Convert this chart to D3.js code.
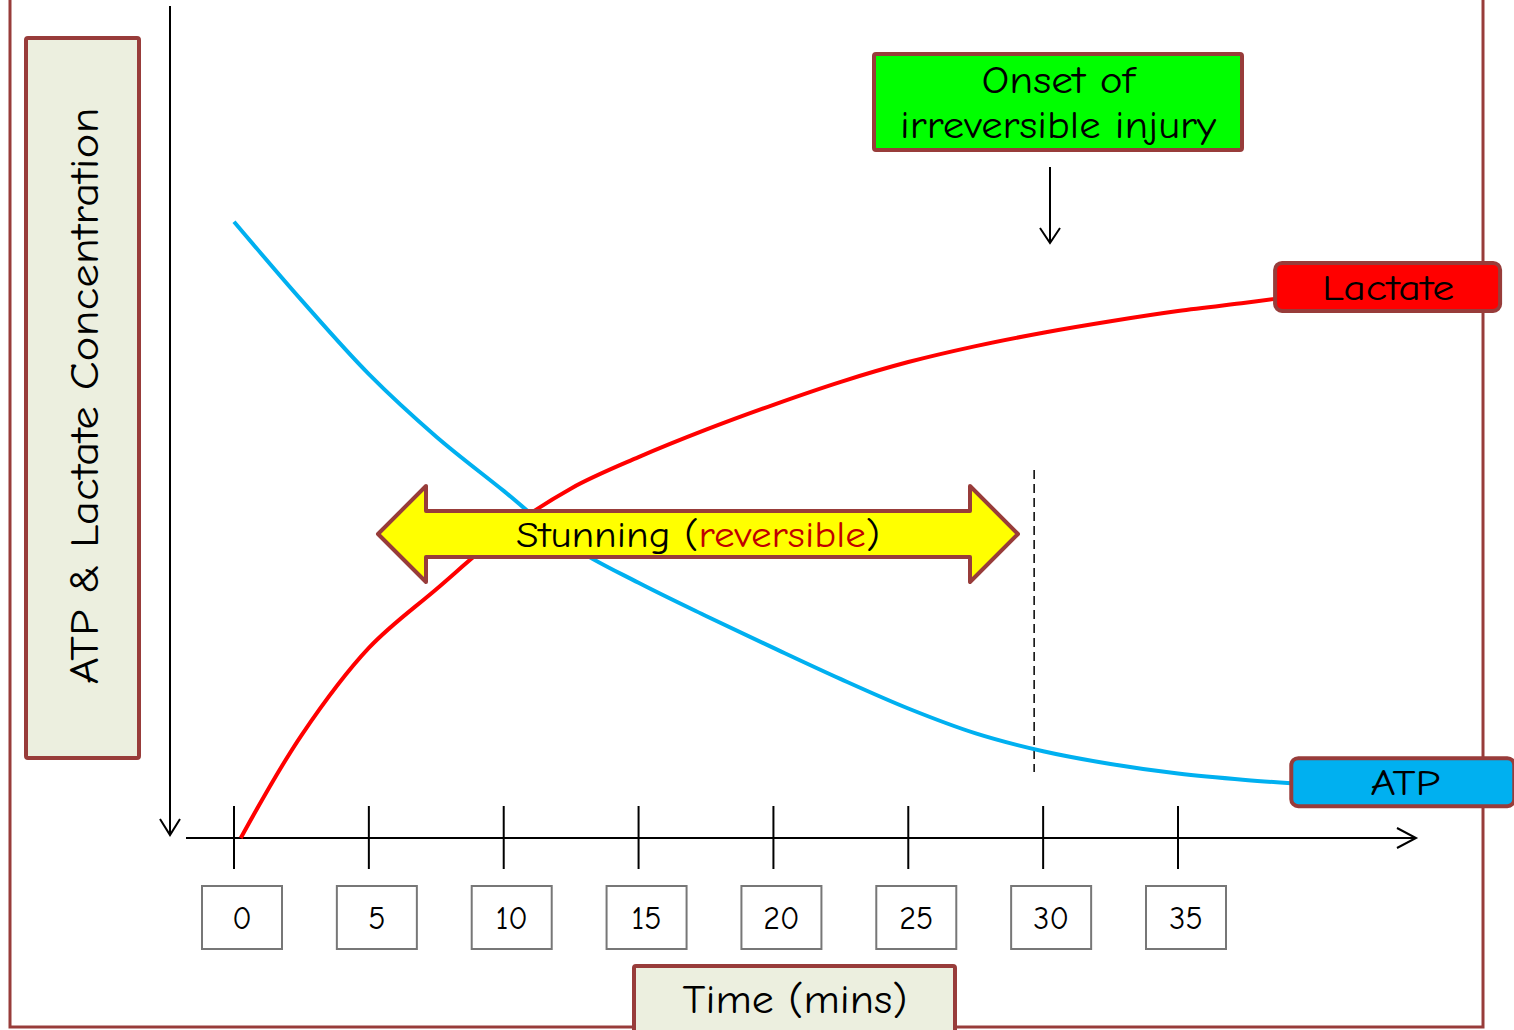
<!DOCTYPE html>
<html><head><meta charset="utf-8">
<script src="https://cdn.jsdelivr.net/npm/d3@7"></script>
<style>
html,body{margin:0;padding:0;background:#fff;}
svg{display:block;}
text{font-family:"Comic Sans MS","Comic Neue","DejaVu Sans",sans-serif;}
</style></head>
<body><svg id="chart" width="1514" height="1030"></svg>
<script>
// ---- data ----
const tickValues = [0, 5, 10, 15, 20, 25, 30, 35];
const tickLabels = ["0", "5", "10", "15", "20", "25", "30", "35"];

const atpTime  = [0, 2.5, 5, 7.5, 10, 12.5, 15, 17.5, 20, 22.5, 25, 27.5, 30, 32.5, 35, 37.5, 39.2];
const atpValue = [96.6, 84.3, 72.7, 62.9, 54.4, 45.8, 40.0, 34.8, 29.8, 24.9, 20.3, 16.4, 13.6, 11.6, 10.1, 9.1, 8.6];

const lactateTime  = [0.25, 2.5, 5, 7.5, 10, 12.5, 15, 17.5, 20, 22.5, 25, 27.5, 30, 32.5, 35, 37.5, 38.6];
const lactateValue = [0, 16.1, 29.8, 39.0, 47.9, 54.8, 59.7, 64.0, 67.9, 71.5, 74.6, 77.1, 79.2, 81.0, 82.6, 83.9, 84.5];

const seriesNames = ["Lactate", "ATP"];
const seriesColors = ["#FF0000", "#00B0F0"];

const yTitle = "ATP & Lactate Concentration";
const xTitle = "Time (mins)";
const onsetLines = ["Onset of", "irreversible injury"];
const stunningParts = [["Stunning (", "#000"], ["reversible", "#C00000"], [")", "#000"]];
const onsetTime = 30;

// ---- layout ----
const brown = "#983C3A";
const svg = d3.select("#chart");
const x = d3.scaleLinear().domain([0, 35]).range([234, 1178]);
const y = d3.scaleLinear().domain([0, 100]).range([838, 200]);
const axisY = y(0);

function txt(sel, len) {
  return sel.attr("textLength", len).attr("lengthAdjust", "spacingAndGlyphs");
}

// outer frame (top edge off-canvas)
svg.append("rect").attr("x", 10).attr("y", -20).attr("width", 1473).attr("height", 1047)
  .attr("fill", "none").attr("stroke", brown).attr("stroke-width", 3);

// y-axis title box
svg.append("rect").attr("x", 26).attr("y", 38).attr("width", 113).attr("height", 720)
  .attr("fill", "#ECEFDF").attr("stroke", brown).attr("stroke-width", 4).attr("rx", 2);
txt(svg.append("text").attr("transform", "translate(98,396) rotate(-90)")
  .attr("text-anchor", "middle").attr("font-size", 41).attr("fill", "#000").text(yTitle), 577);

// x-axis title box
svg.append("rect").attr("x", 634).attr("y", 966).attr("width", 321).attr("height", 80)
  .attr("fill", "#ECEFDF").attr("stroke", brown).attr("stroke-width", 4).attr("rx", 2);
txt(svg.append("text").attr("x", 795).attr("y", 1013).attr("text-anchor", "middle")
  .attr("font-size", 40).attr("fill", "#000").text(xTitle), 225);

// y axis (arrow pointing down)
svg.append("line").attr("x1", 170).attr("y1", 6).attr("x2", 170).attr("y2", 835)
  .attr("stroke", "#000").attr("stroke-width", 2);
svg.append("path").attr("d", "M160,819 L170,835 L180,819").attr("fill", "none")
  .attr("stroke", "#000").attr("stroke-width", 2);

// x axis
svg.append("line").attr("x1", 186).attr("y1", axisY).attr("x2", 1416).attr("y2", axisY)
  .attr("stroke", "#000").attr("stroke-width", 2);
svg.append("path").attr("d", `M1397,${axisY - 10} L1416,${axisY} L1397,${axisY + 10}`)
  .attr("fill", "none").attr("stroke", "#000").attr("stroke-width", 2);

// ticks and label boxes
const tg = svg.append("g").selectAll("g").data(tickValues).join("g")
  .attr("transform", d => `translate(${x(d)},0)`);
tg.append("line").attr("y1", axisY - 32).attr("y2", axisY + 31)
  .attr("stroke", "#000").attr("stroke-width", 2);
tg.append("rect").attr("x", -32).attr("y", 886).attr("width", 80).attr("height", 63)
  .attr("fill", "#fff").attr("stroke", "#777").attr("stroke-width", 2);
tg.append("text").attr("x", 8).attr("y", 929).attr("text-anchor", "middle")
  .attr("font-size", 32).attr("fill", "#000").text((d, i) => tickLabels[i]);

// dashed line at onset
svg.append("line").attr("x1", x(onsetTime) - 9).attr("x2", x(onsetTime) - 9)
  .attr("y1", 470).attr("y2", 772).attr("stroke", "#000").attr("stroke-width", 1.5)
  .attr("stroke-dasharray", "9,5");

// curves
const line = d3.line().x(d => x(d[0])).y(d => y(d[1])).curve(d3.curveCatmullRom.alpha(0.5));
const lacData = lactateTime.map((t, i) => [t, lactateValue[i]]);
const atpData = atpTime.map((t, i) => [t, atpValue[i]]);
svg.append("path").datum(atpData).attr("d", line).attr("fill", "none")
  .attr("stroke", seriesColors[1]).attr("stroke-width", 4);
svg.append("path").datum(lacData).attr("d", line).attr("fill", "none")
  .attr("stroke", seriesColors[0]).attr("stroke-width", 4);

// stunning double arrow
const ay = 534, aL = 378, aR = 1018, hw = 48, sh = 23, hh = 48;
const arrowPts = [
  [aL, ay], [aL + hw, ay - hh], [aL + hw, ay - sh], [aR - hw, ay - sh], [aR - hw, ay - hh],
  [aR, ay], [aR - hw, ay + hh], [aR - hw, ay + sh], [aL + hw, ay + sh], [aL + hw, ay + hh]
];
svg.append("path").attr("d", "M" + arrowPts.map(p => p.join(",")).join("L") + "Z")
  .attr("fill", "#FFFF00").attr("stroke", brown).attr("stroke-width", 4)
  .attr("stroke-linejoin", "round");
const st = svg.append("text").attr("x", 698).attr("y", 547).attr("text-anchor", "middle")
  .attr("font-size", 36);
txt(st, 364);
stunningParts.forEach(p => st.append("tspan").attr("fill", p[1]).text(p[0]));

// onset box
svg.append("rect").attr("x", 874).attr("y", 54).attr("width", 368).attr("height", 96)
  .attr("fill", "#00FF00").attr("stroke", brown).attr("stroke-width", 4).attr("rx", 2);
const onsetLens = [153, 316];
onsetLines.forEach((s, i) => {
  txt(svg.append("text").attr("x", 1058).attr("y", 93 + i * 45).attr("text-anchor", "middle")
    .attr("font-size", 38).attr("fill", "#000").text(s), onsetLens[i]);
});
svg.append("line").attr("x1", 1050).attr("y1", 167).attr("x2", 1050).attr("y2", 243)
  .attr("stroke", "#000").attr("stroke-width", 2);
svg.append("path").attr("d", "M1040,228 L1050,243 L1060,228").attr("fill", "none")
  .attr("stroke", "#000").attr("stroke-width", 2);

// series label boxes
const lastLac = lacData[lacData.length - 1];
const lastAtp = atpData[atpData.length - 1];
svg.append("rect").attr("x", x(lastLac[0])).attr("y", y(lastLac[1]) - 36)
  .attr("width", 225).attr("height", 48).attr("rx", 7)
  .attr("fill", seriesColors[0]).attr("stroke", brown).attr("stroke-width", 4);
txt(svg.append("text").attr("x", x(lastLac[0]) + 113).attr("y", y(lastLac[1]) + 1)
  .attr("text-anchor", "middle").attr("font-size", 36).attr("fill", "#000").text(seriesNames[0]), 132);
svg.append("rect").attr("x", x(lastAtp[0])).attr("y", y(lastAtp[1]) - 25)
  .attr("width", 223).attr("height", 48).attr("rx", 7)
  .attr("fill", seriesColors[1]).attr("stroke", brown).attr("stroke-width", 4);
txt(svg.append("text").attr("x", x(lastAtp[0]) + 114).attr("y", y(lastAtp[1]) + 12)
  .attr("text-anchor", "middle").attr("font-size", 36)
  .attr("fill", "#000").text(seriesNames[1]), 70);
</script></body></html>
